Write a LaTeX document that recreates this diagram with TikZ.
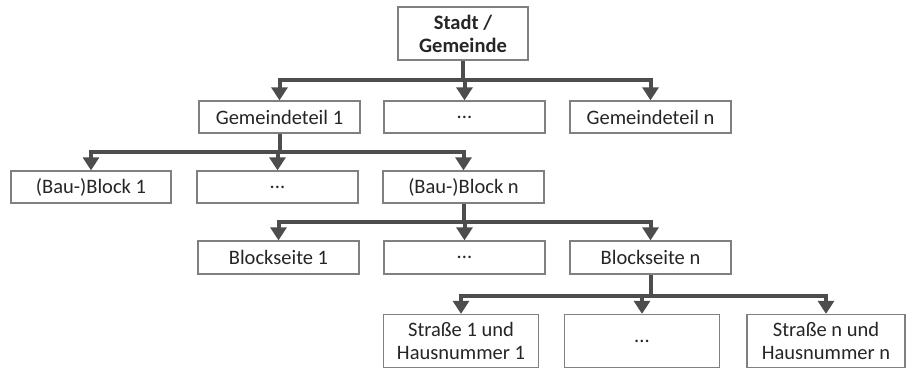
\documentclass[tikz,border=0pt]{standalone}
\usepackage{fontspec}
\setmainfont{Carlito}
\usetikzlibrary{arrows.meta}
\definecolor{linegray}{HTML}{4D4D4D}
\definecolor{boxgray}{HTML}{808080}
\begin{document}
\begin{tikzpicture}[x=1pt,y=-1pt,
  box/.style={draw=boxgray,line width=1.3pt,fill=white,inner sep=0pt,
    minimum width=161pt,minimum height=32pt,align=center,
    font=\fontsize{20.5}{23}\selectfont,text=black!85},
  tallbox/.style={box,minimum width=155pt,minimum height=53pt},
  link/.style={draw=linegray,line width=4pt,line join=miter},
  arr/.style={link,-{Triangle[width=16pt,length=13pt]}}]
\useasboundingbox (0,0) rectangle (908,371);
% top level
\node[box,minimum width=130pt,minimum height=53pt,font=\fontsize{20.5}{23}\selectfont\bfseries] (stadt) at (463,33.5) {Stadt /\\Gemeinde};
% second level
\node[box] (g1) at (279.5,117) {Gemeindeteil 1};
\node[box] (gd) at (464.5,117) {...};
\node[box] (gn) at (650.5,117) {Gemeindeteil n};
% third level
\node[box,minimum width=160pt] (b1) at (91,187) {(Bau-)Block 1};
\node[box] (bd) at (277.5,187) {...};
\node[box] (bn) at (463.5,187) {(Bau-)Block n};
% fourth level
\node[box,minimum height=33pt] (s1) at (278.5,257.5) {Blockseite 1};
\node[box,minimum height=33pt] (sd) at (464.5,257.5) {...};
\node[box,minimum height=33pt] (sn) at (650.5,257.5) {Blockseite n};
% fifth level
\node[tallbox] (h1) at (461,341) {Straße 1 und\\Hausnummer 1};
\node[tallbox] (hd) at (642,341) {...};
\node[tallbox,minimum width=158pt] (hn) at (826,341) {Straße n und\\Hausnummer n};
% junctions
\coordinate (j1) at (463,80);
\coordinate (j2) at (279.5,152);
\coordinate (j3) at (463.5,222);
\coordinate (j4) at (650.5,296);
% connectors
\draw[link] (stadt.south) -- (j1);
\draw[arr] (j1) -| (g1.north);
\draw[arr] (j1) -- (j1 -| gd.north) -- (gd.north);
\draw[arr] (j1) -| (gn.north);
\draw[link] (g1.south) -- (j2);
\draw[arr] (j2) -| (b1.north);
\draw[arr] (j2) -| (bd.north);
\draw[arr] (j2) -| (bn.north);
\draw[link] (bn.south) -- (j3);
\draw[arr] (j3) -| (s1.north);
\draw[arr] (j3) -| (sd.north);
\draw[arr] (j3) -| (sn.north);
\draw[link] (sn.south) -- (j4);
\draw[arr] (j4) -| (h1.north);
\draw[arr] (j4) -| (hd.north);
\draw[arr] (j4) -| (hn.north);
\end{tikzpicture}
\end{document}
